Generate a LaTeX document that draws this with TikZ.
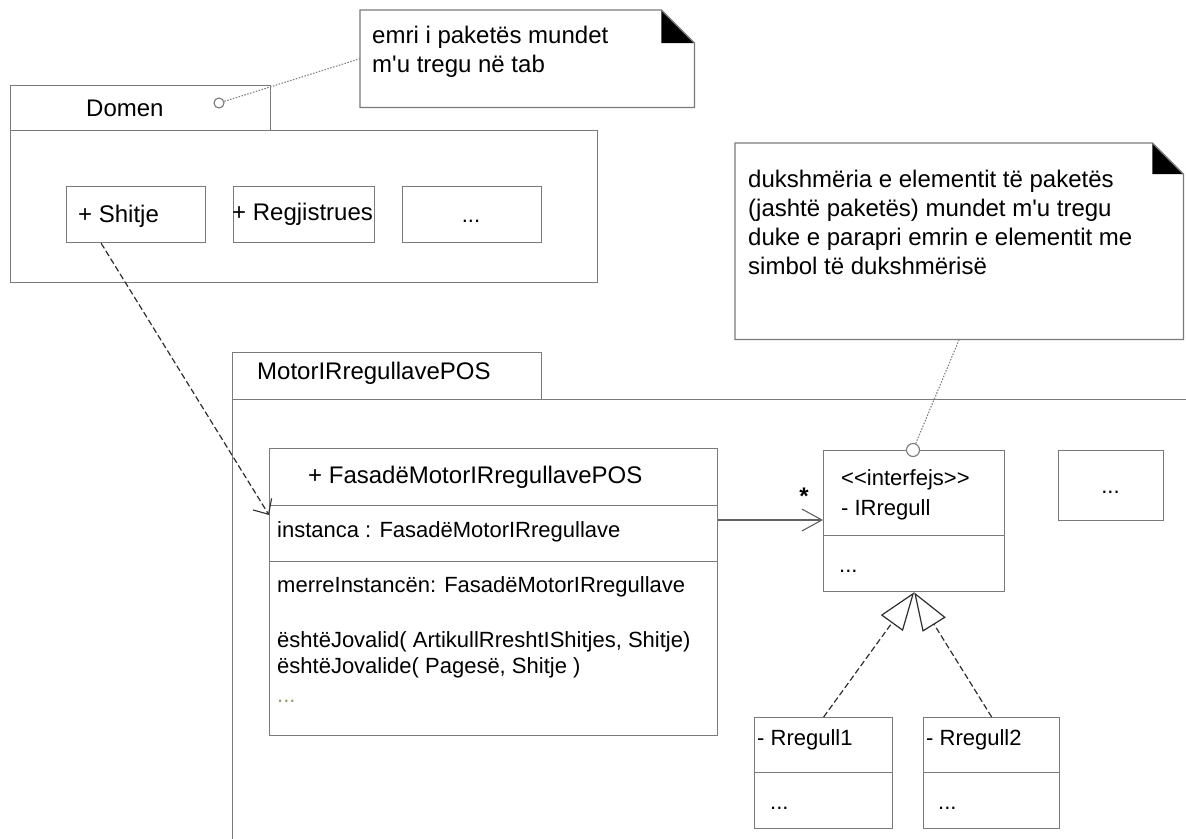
\documentclass[tikz,border=0pt]{standalone}
\usepackage{fontspec}
\setmainfont{Liberation Sans}[Ligatures=TeXOff]
\usetikzlibrary{arrows.meta,calc}

\definecolor{frame}{HTML}{7A7A7A}
\definecolor{wire}{HTML}{2E2E2E}
\definecolor{dotline}{HTML}{808080}
\definecolor{faint}{HTML}{9A9A70}

\newcommand{\fbig}{\fontsize{24}{29}\selectfont}
\newcommand{\fsmall}{\fontsize{22}{26}\selectfont}

% outline of a note with its folded corner filled black
\newcommand{\notefold}[2]{%
  \fill[black] ($(#1.north east)+(-#2,0)$) -- ++(0,#2) -- ++(#2,0) -- cycle;
  \draw[frame, line width=1.3pt] (#1.north west) -- ($(#1.north east)+(-#2,0)$)
    -- ($(#1.north east)+(0,#2)$) -- (#1.south east) -- (#1.south west) -- cycle;}

\tikzset{
  box/.style={draw=frame, line width=1.3pt, fill=white, inner sep=0pt, anchor=north west},
  notearea/.style={inner sep=0pt, anchor=north west},
  txt/.style={inner sep=0pt, anchor=base west, font=\fsmall},
  ttl/.style={inner sep=0pt, anchor=base west, font=\fbig},
  dots/.style={inner sep=0pt, anchor=base, font=\fsmall},
  pin/.style={circle, draw=frame, line width=1.1pt, fill=white, inner sep=0pt},
  noteline/.style={dotline, line width=1.1pt, dash pattern=on 1.5pt off 1.5pt},
  dep/.style={wire, line width=1.2pt, dash pattern=on 6pt off 3pt,
    -{Straight Barb[length=12pt,width=22pt,line width=1.1pt]}},
  assoc/.style={frame!80!black, line width=1.3pt,
    -{Straight Barb[length=20pt,width=22pt,line width=1.1pt]}},
  real/.style={wire, line width=1.2pt, dash pattern=on 6pt off 3pt,
    -{Triangle[open,length=38pt,width=27pt,line width=1.2pt,fill=white]}},
}

\begin{document}
\begin{tikzpicture}[x=1pt,y=-1pt]
\useasboundingbox (0,0) rectangle (1186,838);

% ---- note about the package name
\node[notearea, minimum width=334, minimum height=97] (n1) at (360,10) {};
\notefold{n1}{33}
\node[ttl] (n1a) at (372,43.5) {emri i paketës mundet};
\node[ttl] (n1b) at (372,72.5) {m'u tregu në tab};

% ---- package Domen
\node[box, minimum width=260, minimum height=45] (domTab) at (10,85) {};
\node[box, minimum width=587, minimum height=152] (domBody) at (10,130) {};
\node[ttl] (domName) at (86,116.5) {Domen};
\node[box, minimum width=139, minimum height=56] (shitje) at (66,186) {};
\node[box, minimum width=141, minimum height=56] (regj) at (233,186) {};
\node[box, minimum width=139, minimum height=56] (dotsA) at (402,186) {};
\node[ttl] at (78,222) {+ Shitje};
\node[ttl] at (232,220) {+ Regjistrues};
\node[dots] at (471,222) {...};

% ---- note about visibility
\node[notearea, minimum width=448, minimum height=196] (n2) at (735,143) {};
\notefold{n2}{31}
\node[ttl] at (748,187) {dukshmëria e elementit të paketës};
\node[ttl] at (748,216) {(jashtë paketës) mundet m'u tregu};
\node[ttl] at (748,245) {duke e parapri emrin e elementit me};
\node[ttl] at (748,274.5) {simbol të dukshmërisë};

% ---- package MotorIRregullavePOS
\node[box, minimum width=309, minimum height=47] (motTab) at (232,352) {};
\node[box, minimum width=1000, minimum height=500] (motBody) at (232,399) {};
\node[ttl] (motName) at (257,379) {MotorIRregullavePOS};

% facade class
\node[box, minimum width=448, minimum height=57] (fasT) at (269,448) {};
\node[box, minimum width=448, minimum height=56] (fasA) at (269,505) {};
\node[box, minimum width=448, minimum height=174] (fasO) at (269,561) {};
\node[ttl] at (308,483) {+ FasadëMotorIRregullavePOS};
\node[txt] at (277,537) {instanca : FasadëMotorIRregullave};
\node[txt] at (277,592) {merreInstancën: FasadëMotorIRregullave};
\node[txt] at (277,647) {ështëJovalid( ArtikullRreshtIShitjes, Shitje)};
\node[txt] at (277,673) {ështëJovalide( Pagesë, Shitje )};
\node[txt, text=faint] at (277,702) {...};

% interface
\node[box, minimum width=181, minimum height=85] (ifT) at (823,450) {};
\node[box, minimum width=181, minimum height=56] (ifO) at (823,535) {};
\node[txt] at (841,485) {<<interfejs>>};
\node[txt] at (841,515) {- IRregull};
\node[txt] at (839,572) {...};

% further element
\node[box, minimum width=105, minimum height=70] (dotsB) at (1058,450) {};
\node[dots] at (1110.5,493) {...};

% rules
\node[box, minimum width=138, minimum height=55] (r1T) at (754,717) {};
\node[box, minimum width=138, minimum height=56] (r1O) at (754,772) {};
\node[txt] at (757,745) {- Rregull1};
\node[txt] at (770,809) {...};
\node[box, minimum width=136, minimum height=55] (r2T) at (923,717) {};
\node[box, minimum width=136, minimum height=56] (r2O) at (923,772) {};
\node[txt] at (926,745) {- Rregull2};
\node[txt] at (938,809) {...};

% ---- connectors
\draw[dep] ([xshift=-35pt]shitje.south) -- ([yshift=-10pt]fasA.north west);

\coordinate (aS) at ([yshift=-15pt]fasA.north east);
\draw[assoc] (aS) -- (aS -| ifT.west);
\node[inner sep=0pt, font=\fbig\bfseries] (mult) at (804,496) {*};

\draw[real] (r1T.north) -- (ifO.south);
\draw[real] (r2T.north) -- (ifO.south);

% note anchors
\node[pin, minimum size=10] (c1) at (219,103) {};
\node[pin, minimum size=13] (c2) at (913,450) {};
\draw[noteline] (c1) -- (n1.west);
\draw[noteline] (c2) -- (n2.south);
\end{tikzpicture}
\end{document}
